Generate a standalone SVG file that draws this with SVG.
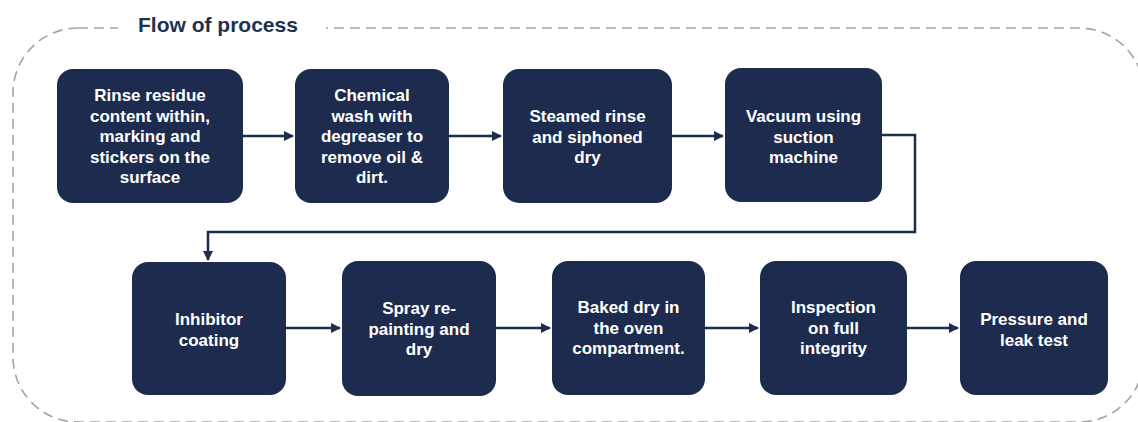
<svg xmlns="http://www.w3.org/2000/svg" width="1138" height="422" viewBox="0 0 1138 422">
<defs>
<style>
.frame{fill:none;stroke:#a3a3a3;stroke-width:1.6;stroke-dasharray:10 6}
.box{fill:#1d2c4e}
.lbl{font-family:"Liberation Sans",Arial,sans-serif;font-weight:bold;font-size:17px;fill:#ffffff;text-anchor:middle}
.title{font-family:"Liberation Sans",Arial,sans-serif;font-weight:bold;font-size:21px;fill:#1f3150}
.conn{fill:none;stroke:#1d2c4e;stroke-width:2.5}
</style>
<marker id="ah" viewBox="0 0 10 10" refX="9" refY="5" markerWidth="4" markerHeight="4" orient="auto" markerUnits="strokeWidth">
<path d="M0,0 L10,5 L0,10 z" fill="#1d2c4e"/>
</marker>
</defs>
<rect width="1138" height="422" fill="#ffffff"/>
<rect class="frame" x="13" y="28" width="1131" height="394" rx="65" ry="65"/>
<rect x="118" y="12" width="208" height="30" fill="#ffffff"/>
<text class="title" x="138" y="32">Flow of process</text>

<g id="connectors">
<line class="conn" x1="243" y1="136" x2="293" y2="136" marker-end="url(#ah)"/>
<line class="conn" x1="449" y1="136" x2="501" y2="136" marker-end="url(#ah)"/>
<line class="conn" x1="672" y1="136" x2="723" y2="136" marker-end="url(#ah)"/>
<polyline class="conn" points="882,135 915,135 915,232 208,232 208,260" marker-end="url(#ah)"/>
<line class="conn" x1="286" y1="328" x2="340" y2="328" marker-end="url(#ah)"/>
<line class="conn" x1="496" y1="328" x2="550" y2="328" marker-end="url(#ah)"/>
<line class="conn" x1="705" y1="328" x2="758" y2="328" marker-end="url(#ah)"/>
<line class="conn" x1="907" y1="328" x2="958" y2="328" marker-end="url(#ah)"/>
</g>

<g id="n1">
<rect class="box" x="57" y="69" width="186" height="134" rx="16"/>
<text class="lbl"><tspan x="150" y="101">Rinse residue</tspan><tspan x="150" y="121.5">content within,</tspan><tspan x="150" y="142">marking and</tspan><tspan x="150" y="162.5">stickers on the</tspan><tspan x="150" y="183">surface</tspan></text>
</g>
<g id="n2">
<rect class="box" x="295" y="69" width="154" height="134" rx="16"/>
<text class="lbl"><tspan x="372" y="101">Chemical</tspan><tspan x="372" y="121.5">wash with</tspan><tspan x="372" y="142">degreaser to</tspan><tspan x="372" y="162.5">remove oil &amp;</tspan><tspan x="372" y="183">dirt.</tspan></text>
</g>
<g id="n3">
<rect class="box" x="503" y="69" width="169" height="134" rx="16"/>
<text class="lbl"><tspan x="587.5" y="122">Steamed rinse</tspan><tspan x="587.5" y="142.5">and siphoned</tspan><tspan x="587.5" y="163">dry</tspan></text>
</g>
<g id="n4">
<rect class="box" x="725" y="68" width="157" height="134" rx="16"/>
<text class="lbl"><tspan x="803.5" y="122">Vacuum using</tspan><tspan x="803.5" y="142.5">suction</tspan><tspan x="803.5" y="163">machine</tspan></text>
</g>
<g id="n5">
<rect class="box" x="132" y="262" width="154" height="133" rx="16"/>
<text class="lbl"><tspan x="209" y="325">Inhibitor</tspan><tspan x="209" y="345.5">coating</tspan></text>
</g>
<g id="n6">
<rect class="box" x="342" y="261" width="154" height="135" rx="16"/>
<text class="lbl"><tspan x="419" y="314">Spray re-</tspan><tspan x="419" y="334.5">painting and</tspan><tspan x="419" y="355">dry</tspan></text>
</g>
<g id="n7">
<rect class="box" x="552" y="261" width="153" height="134" rx="16"/>
<text class="lbl"><tspan x="628.5" y="313">Baked dry in</tspan><tspan x="628.5" y="333.5">the oven</tspan><tspan x="628.5" y="354">compartment.</tspan></text>
</g>
<g id="n8">
<rect class="box" x="760" y="261" width="147" height="134" rx="16"/>
<text class="lbl"><tspan x="833.5" y="313">Inspection</tspan><tspan x="833.5" y="333.5">on full</tspan><tspan x="833.5" y="354">integrity</tspan></text>
</g>
<g id="n9">
<rect class="box" x="960" y="261" width="148" height="134" rx="16"/>
<text class="lbl"><tspan x="1034" y="325">Pressure and</tspan><tspan x="1034" y="345.5">leak test</tspan></text>
</g>
</svg>
